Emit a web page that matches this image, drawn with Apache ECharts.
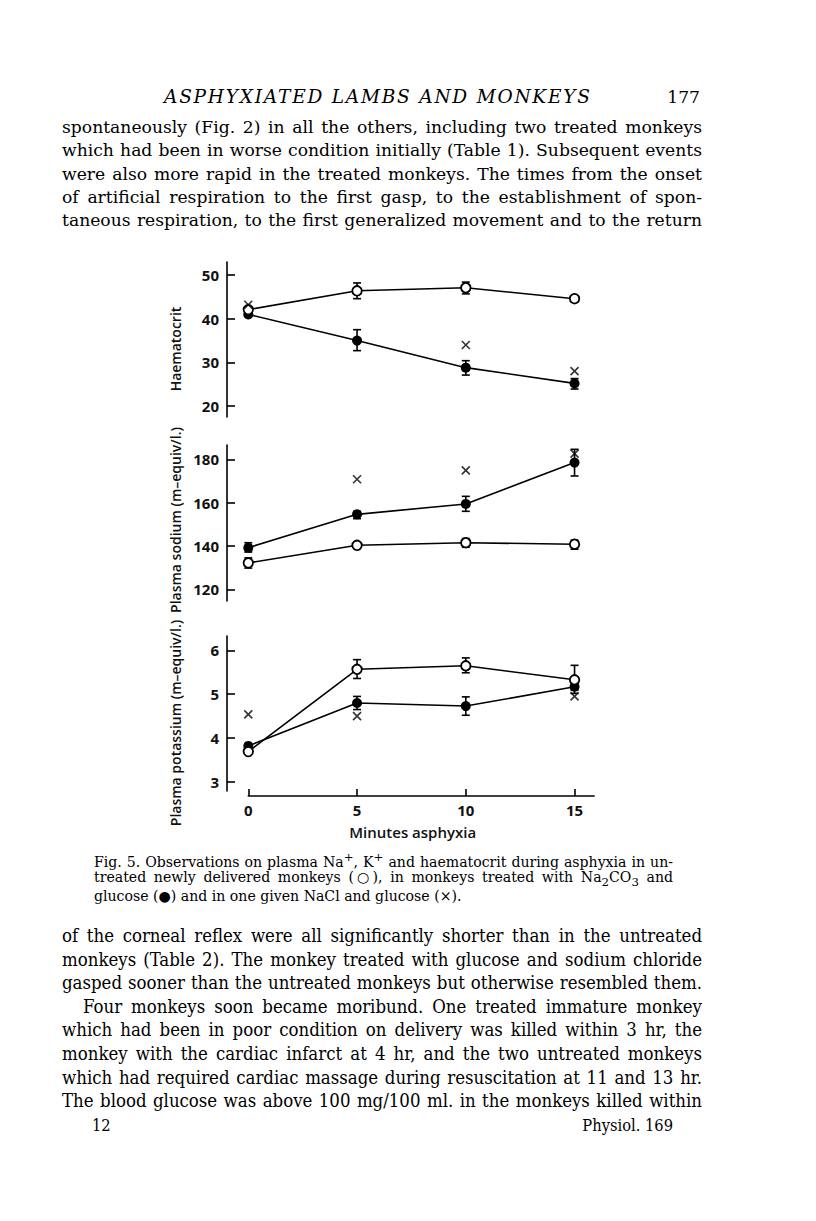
<!DOCTYPE html>
<html>
<head>
<meta charset="utf-8">
<script src="https://cdn.jsdelivr.net/npm/echarts@6/dist/echarts.min.js"></script>
<style>
  html, body { margin:0; padding:0; background:#fff; }
  #page { position:relative; width:816px; height:1221px; overflow:hidden; background:#fff; }
  #chart { position:absolute; left:0; top:0; width:816px; height:1221px; }
  .t { position:absolute; white-space:nowrap; font-family:"DejaVu Serif", serif; color:#000; line-height:20px; height:20px; }
  .t.just { white-space:normal; text-align:justify; text-align-last:justify; }
  .cond { font-family:"DejaVu Serif Condensed", "DejaVu Serif", serif; }
</style>
</head>
<body>
<div id="page">
  <div id="chart"></div>
  <div id="text"></div>
</div>
<script>
// ---------------- data ----------------
const minutes = [0, 5, 10, 15];
const xTicks = [0, 5, 10, 15];

const hctTicks = [20, 30, 40, 50];
const hctUntreated = [42.1, 46.4, 47.1, 44.6];
const hctUntreatedLow = [null, 44.6, 45.7, 44.0];
const hctUntreatedHigh = [null, 48.2, 48.4, 45.2];
const hctTreated = [41.0, 35.0, 28.8, 25.2];
const hctTreatedLow = [null, 32.7, 27.1, 23.9];
const hctTreatedHigh = [null, 37.5, 30.4, 26.3];
const hctNaCl = [43.2, null, 34.0, 28.0];

const naTicks = [120, 140, 160, 180];
const naUntreated = [132.2, 140.3, 141.5, 140.8];
const naUntreatedLow = [129.8, 138.8, 139.4, 138.5];
const naUntreatedHigh = [134.5, 141.8, 143.4, 142.6];
const naTreated = [139.2, 154.6, 159.4, 178.5];
const naTreatedLow = [137.2, 152.6, 156.0, 172.3];
const naTreatedHigh = [141.5, 156.0, 162.9, 184.6];
const naNaCl = [null, 170.8, 174.9, 182.6];

const kTicks = [3, 4, 5, 6];
const kUntreated = [3.69, 5.57, 5.65, 5.33];
const kUntreatedLow = [null, 5.36, 5.49, 5.02];
const kUntreatedHigh = [null, 5.79, 5.83, 5.66];
const kTreated = [3.82, 4.80, 4.73, 5.17];
const kTreatedLow = [null, 4.65, 4.52, 5.09];
const kTreatedHigh = [null, 4.95, 4.94, 5.24];
const kNaCl = [4.54, 4.50, null, 4.95];

const panelTitles = ['Haematocrit', 'Plasma sodium (m\u2013equiv/l.)', 'Plasma potassium (m\u2013equiv/l.)'];
const xTitle = 'Minutes asphyxia';

const headerText = 'ASPHYXIATED LAMBS AND MONKEYS';
const pageNumber = '177';
const topLines = [
  'spontaneously (Fig. 2) in all the others, including two treated monkeys',
  'which had been in worse condition initially (Table 1). Subsequent events',
  'were also more rapid in the treated monkeys. The times from the onset',
  'of artificial respiration to the first gasp, to the establishment of spon-',
  'taneous respiration, to the first generalized movement and to the return'
];
const captionLines = [
  'Fig. 5. Observations on plasma Na<sup>+</sup>, K<sup>+</sup> and haematocrit during asphyxia in un-',
  'treated newly delivered monkeys (\u25CB), in monkeys treated with Na<sub>2</sub>CO<sub>3</sub> and',
  'glucose (\u25CF) and in one given NaCl and glucose (\u00D7).'
];
const bottomLines = [
  'of the corneal reflex were all significantly shorter than in the untreated',
  'monkeys (Table 2). The monkey treated with glucose and sodium chloride',
  'gasped sooner than the untreated monkeys but otherwise resembled them.',
  'Four monkeys soon became moribund. One treated immature monkey',
  'which had been in poor condition on delivery was killed within 3 hr, the',
  'monkey with the cardiac infarct at 4 hr, and the two untreated monkeys',
  'which had required cardiac massage during resuscitation at 11 and 13 hr.',
  'The blood glucose was above 100 mg/100 ml. in the monkeys killed within'
];
const footerLeft = '12';
const footerRight = 'Physiol. 169';

// ---------------- text layer ----------------
const textLayer = document.getElementById('text');
function addLine(html, left, centerY, width, cls, extraStyle) {
  const d = document.createElement('div');
  d.className = 't ' + (cls || '');
  d.style.left = left + 'px';
  d.style.top = (centerY - 10) + 'px';
  if (width) d.style.width = width + 'px';
  if (extraStyle) Object.assign(d.style, extraStyle);
  d.innerHTML = '<span>' + html + '</span>';
  textLayer.appendChild(d);
  return d;
}
function fitGroup(divs, widths, baseSize, justifyFlags) {
  divs.forEach(d => d.style.fontSize = baseSize + 'px');
  let scale = Infinity;
  divs.forEach((d, i) => {
    if (!justifyFlags[i]) return;
    const w = d.querySelector('span').getBoundingClientRect().width;
    scale = Math.min(scale, (widths[i] * 0.99) / w);
  });
  const size = baseSize * scale;
  divs.forEach((d, i) => {
    d.style.fontSize = size + 'px';
    d.style.width = widths[i] + 'px';
    if (justifyFlags[i]) d.classList.add('just');
  });
  return size;
}

const LEFT = 62, RIGHT = 702, W = RIGHT - LEFT;
// top body
const topDivs = topLines.map((s, i) => addLine(s, LEFT, 127 + i * 23.3, W));
const bodySize = fitGroup(topDivs, topDivs.map(() => W), 20, topDivs.map(() => true));
// header
const hdr = addLine(headerText, 164, 97, null, '', { fontStyle: 'italic', fontSize: (bodySize * 1.08) + 'px' });
const hw = hdr.querySelector('span').getBoundingClientRect().width;
hdr.style.letterSpacing = ((426 - hw) / (headerText.length - 1)) + 'px';
const pn = addLine(pageNumber, 0, 97, null, '', { fontSize: bodySize + 'px' });
pn.style.left = (700 - pn.querySelector('span').getBoundingClientRect().width) + 'px';

// caption
const CL = 94, CW = 673 - 94;
const capDivs = captionLines.map((s, i) => addLine(s, CL, 857 + i * 19.5, CW));
fitGroup(capDivs, capDivs.map(() => CW), 16, [true, true, false]);
capDivs[2].style.width = 'auto';

// bottom body
const indent = 21;
const botWidths = bottomLines.map((s, i) => (i === 3) ? W - indent : W);
const botDivs = bottomLines.map((s, i) => addLine(s, LEFT + (i === 3 ? indent : 0), 936 + i * 23.6, botWidths[i], 'cond'));
fitGroup(botDivs, botWidths, 18, botDivs.map(() => true));
// footer
const fl = addLine(footerLeft, 92, 1126, null, 'cond', { fontSize: (bodySize * 0.95) + 'px' });
const fr = addLine(footerRight, 0, 1126, null, 'cond', { fontSize: (bodySize * 0.95) + 'px' });
fr.style.left = (673 - fr.querySelector('span').getBoundingClientRect().width) + 'px';

// ---------------- chart ----------------
const chart = echarts.init(document.getElementById('chart'), null, { renderer: 'svg', width: 816, height: 1221 });

const GL = 227, X0 = 248.3, PXU = 21.75, XMAX = 15.9;
const XMIN = -(X0 - GL) / PXU;
const GW = (XMAX - XMIN) * PXU;

const panels = [
  { top: 262, height: 155, min: 17.5, max: 53, ticks: hctTicks,
    u: hctUntreated, uL: hctUntreatedLow, uH: hctUntreatedHigh,
    t: hctTreated, tL: hctTreatedLow, tH: hctTreatedHigh, c: hctNaCl, titleY: 349 },
  { top: 445, height: 156, min: 114.6, max: 186.6, ticks: naTicks,
    u: naUntreated, uL: naUntreatedLow, uH: naUntreatedHigh,
    t: naTreated, tL: naTreatedLow, tH: naTreatedHigh, c: naNaCl, titleY: 520 },
  { top: 636, height: 155, min: 2.79, max: 6.33, ticks: kTicks,
    u: kUntreated, uL: kUntreatedLow, uH: kUntreatedHigh,
    t: kTreated, tL: kTreatedLow, tH: kTreatedHigh, c: kNaCl, titleY: 723 }
];

const tickFont = { fontFamily: '"Open Sans", sans-serif', fontWeight: 700, fontSize: 15, color: '#111' };
const titleFont = '600 14px "Open Sans", sans-serif';

const grids = [], xAxes = [], yAxes = [], series = [], graphics = [];
function pairs(vals) {
  const out = [];
  vals.forEach((v, i) => { if (v !== null && v !== undefined) out.push([minutes[i], v]); });
  return out;
}
function errData(lo, hi) {
  const out = [];
  lo.forEach((v, i) => { if (v !== null && hi[i] !== null) out.push([minutes[i], v, hi[i]]); });
  return out;
}
function renderErr(params, api) {
  const x = api.value(0), lo = api.value(1), hi = api.value(2);
  const a = api.coord([x, lo]), b = api.coord([x, hi]);
  const cw = 4;
  const st = { stroke: '#000', lineWidth: 1.6 };
  return { type: 'group', children: [
    { type: 'line', shape: { x1: a[0], y1: a[1], x2: b[0], y2: b[1] }, style: st },
    { type: 'line', shape: { x1: a[0] - cw, y1: a[1], x2: a[0] + cw, y2: a[1] }, style: st },
    { type: 'line', shape: { x1: b[0] - cw, y1: b[1], x2: b[0] + cw, y2: b[1] }, style: st }
  ]};
}

panels.forEach((p, i) => {
  grids.push({ left: GL, top: p.top, width: GW, height: p.height });
  xAxes.push({ gridIndex: i, type: 'value', min: XMIN, max: XMAX, show: false, axisLine: { onZero: false } });
  yAxes.push({
    gridIndex: i, type: 'value', min: p.min, max: p.max, position: 'left',
    axisLine: { show: true, onZero: false, lineStyle: { color: '#000', width: 1.6 } },
    axisTick: { show: true, inside: true, length: 8, customValues: p.ticks, lineStyle: { color: '#000', width: 1.6 } },
    axisLabel: { show: true, margin: 8, customValues: p.ticks, ...tickFont },
    splitLine: { show: false }
  });
  graphics.push({ type: 'text', x: 175, y: p.titleY, rotation: Math.PI / 2,
    style: { text: panelTitles[i], font: titleFont, fill: '#111', textAlign: 'center', textVerticalAlign: 'middle' } });
  series.push(
    { type: 'custom', xAxisIndex: i, yAxisIndex: i, renderItem: renderErr, data: errData(p.uL, p.uH), z: 2, silent: true },
    { type: 'custom', xAxisIndex: i, yAxisIndex: i, renderItem: renderErr, data: errData(p.tL, p.tH), z: 2, silent: true },
    { type: 'line', xAxisIndex: i, yAxisIndex: i, data: pairs(p.t), z: 3,
      lineStyle: { color: '#000', width: 1.6 }, symbol: 'circle', symbolSize: 10, showSymbol: true,
      itemStyle: { color: '#000', borderColor: '#000', borderWidth: 0 } },
    { type: 'line', xAxisIndex: i, yAxisIndex: i, data: pairs(p.u), z: 4,
      lineStyle: { color: '#000', width: 1.6 }, symbol: 'circle', symbolSize: 9.5, showSymbol: true,
      itemStyle: { color: '#fff', borderColor: '#000', borderWidth: 1.8 } },
    { type: 'scatter', xAxisIndex: i, yAxisIndex: i, data: pairs(p.c), z: 5,
      symbol: 'path://M0,0L10,10M10,0L0,10', symbolSize: 8,
      itemStyle: { color: 'none', borderColor: '#000', borderWidth: 1.6 } }
  );
});

// bottom axis (minutes)
grids.push({ left: X0, top: 790, width: XMAX * PXU, height: 6 });
xAxes.push({
  gridIndex: 3, type: 'value', min: 0, max: XMAX, position: 'bottom',
  axisLine: { show: true, onZero: false, lineStyle: { color: '#000', width: 1.6 } },
  axisTick: { show: true, inside: true, length: 7, customValues: xTicks, lineStyle: { color: '#000', width: 1.6 } },
  axisLabel: { show: true, margin: 6, customValues: xTicks, ...tickFont },
  splitLine: { show: false },
  name: xTitle, nameLocation: 'middle', nameGap: 28,
  nameTextStyle: { fontFamily: '"Open Sans", sans-serif', fontWeight: 600, fontSize: 15, color: '#111', padding: [0, 17, 0, 0] }
});
yAxes.push({ gridIndex: 3, type: 'value', min: 0, max: 1, show: false });

chart.setOption({
  animation: false,
  backgroundColor: 'transparent',
  grid: grids,
  xAxis: xAxes,
  yAxis: yAxes,
  series: series,
  graphic: graphics
});
</script>
</body>
</html>
